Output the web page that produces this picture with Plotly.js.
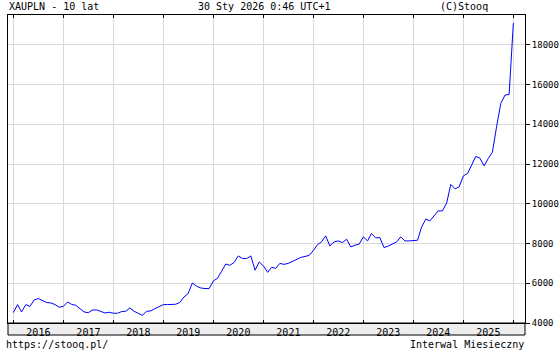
<!DOCTYPE html>
<html>
<head>
<meta charset="utf-8">
<script src="https://cdn.plot.ly/plotly-3.0.1.min.js"></script>
<style>html,body{margin:0;padding:0;background:#fff;}#chart{width:560px;height:350px;}</style>
</head>
<body>
<div id="chart"></div>
<script>
// Monthly XAUPLN closes, Jan 2016 .. Jan 2026
const startMonth = "2016-01";
const values = [
  4524, 4927, 4555, 4927, 4830, 5160, 5230, 5108, 5028, 5010, 4927, 4790,
  4840, 5058, 4940, 4890, 4725, 4555, 4520, 4650, 4660, 4590, 4505, 4540,
  4490, 4490, 4573, 4590, 4756, 4590, 4473, 4388, 4590, 4607, 4725, 4806,
  4927, 4927, 4927, 4944, 5030, 5310, 5480, 6015, 5849, 5765, 5732, 5732,
  6116, 6250, 6600, 6970, 6900, 7050, 7375, 7244, 7244, 7375, 6655, 7073,
  6872, 6550, 6800, 6750, 7000, 6950, 7000, 7100, 7200, 7300, 7350, 7400,
  7650, 7950, 8080, 8383, 7880, 8080, 8131, 8050, 8217, 7830, 7915, 7965,
  8333, 8131, 8504, 8282, 8300, 7800, 7865, 7965, 8080, 8333, 8131, 8131,
  8140, 8166, 8820, 9224, 9140, 9426, 9643, 9643, 10046, 10973, 10750, 10852,
  11406, 11527, 11950, 12380, 12300, 11910, 12270, 12600, 13900, 15050, 15472, 15500,
  19100
];
const yTicks = [4000, 6000, 8000, 10000, 12000, 14000, 16000, 18000];
const titleLeft = "XAUPLN - 10 lat";
const titleCenter = "30 Sty 2026 0:46 UTC+1";
const titleRight = "(C)Stooq";
const footLeft = "https://stooq.pl/";
const footRight = "Interwal Miesieczny";

function monthDates(start, n) {
  const [y0, m0] = start.split("-").map(Number);
  const out = [];
  for (let i = 0; i < n; i++) {
    const t = (m0 - 1) + i;
    const y = y0 + Math.floor(t / 12);
    const m = (t % 12) + 1;
    out.push(y + "-" + String(m).padStart(2, "0") + "-01");
  }
  return out;
}
const dates = monthDates(startMonth, values.length);

// pixel helpers for paper positions
const L = 8, R = 525, T = 15, B = 323;
const px = x => (x - L) / (R - L);
const py = y => (B - y) / (B - T);

const font = "DejaVu Sans Mono, monospace";

const trace = {
  x: dates, y: values, type: "scatter", mode: "lines",
  line: {color: "#0000ff", width: 1}, hoverinfo: "none", yaxis: "y"
};

const layout = {
  width: 560, height: 350,
  margin: {l: L, r: 560 - R, t: T, b: 350 - B, pad: 0},
  paper_bgcolor: "#ffffff", plot_bgcolor: "#ffffff",
  showlegend: false,
  font: {family: font, size: 10, color: "#000"},
  xaxis: {
    type: "date", range: ["2015-11-23", "2026-03-27"],
    tick0: "2016-01-01", dtick: "M12", tickformat: "%Y", ticklabelmode: "period",
    ticks: "inside", ticklen: 3, tickcolor: "#000", tickwidth: 1,
    showgrid: true, gridcolor: "#d9d9d9", gridwidth: 1,
    showline: true, linecolor: "#000", linewidth: 1, mirror: "ticks",
    zeroline: false, tickfont: {family: font, size: 10, color: "#000"}
  },
  yaxis: {
    side: "right", range: [4000, 19500],
    tickvals: yTicks, ticktext: yTicks.map(String),
    ticks: "outside", ticklen: 4, tickcolor: "#000",
    ticklabelstandoff: 0,
    showgrid: true, gridcolor: "#d9d9d9", gridwidth: 1,
    showline: true, linecolor: "#000", linewidth: 1, mirror: true,
    zeroline: false, tickfont: {family: font, size: 9, color: "#000"}
  },
  yaxis2: {
    overlaying: "y", matches: "y", side: "left", range: [4000, 19500],
    tickvals: yTicks, ticks: "inside", ticklen: 3, tickcolor: "#000",
    showticklabels: false, showgrid: false, showline: false, zeroline: false
  },
  shapes: [{
    type: "rect", xref: "paper", yref: "paper", layer: "below",
    x0: 0, x1: 1, y0: py(335), y1: 0,
    fillcolor: "#eeeeee", line: {color: "#000", width: 1}
  }],
  annotations: [
    {text: titleLeft, xref: "paper", yref: "paper", x: px(7), y: py(7), xanchor: "left", yanchor: "middle", showarrow: false, font: {family: font, size: 10}},
    {text: titleCenter, xref: "paper", yref: "paper", x: px(264), y: py(7), xanchor: "center", yanchor: "middle", showarrow: false, font: {family: font, size: 10}},
    {text: titleRight, xref: "paper", yref: "paper", x: px(490), y: py(7), xanchor: "right", yanchor: "middle", showarrow: false, font: {family: font, size: 10}},
    {text: footLeft, xref: "paper", yref: "paper", x: px(4), y: py(344), xanchor: "left", yanchor: "middle", showarrow: false, font: {family: font, size: 10}},
    {text: footRight, xref: "paper", yref: "paper", x: px(526), y: py(344), xanchor: "right", yanchor: "middle", showarrow: false, font: {family: font, size: 10}}
  ]
};

Plotly.newPlot("chart", [trace], layout, {staticPlot: true, displayModeBar: false});
</script>
</body>
</html>
